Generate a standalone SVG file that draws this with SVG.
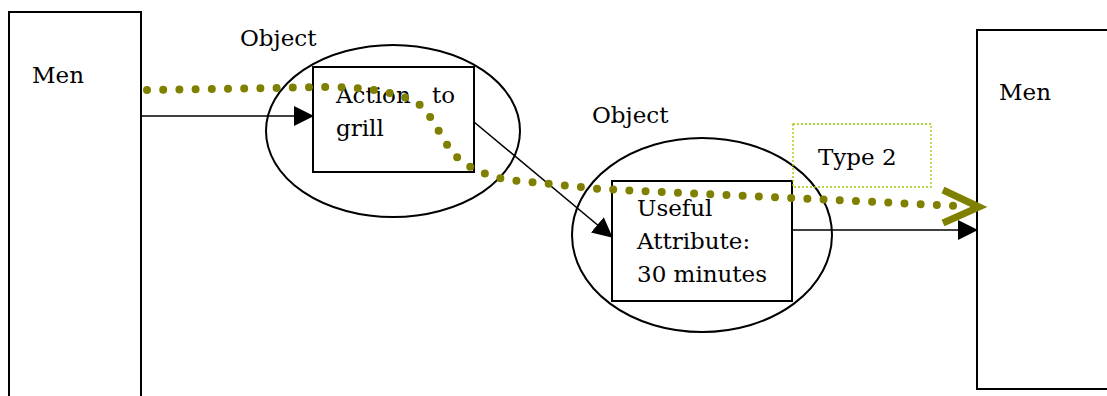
<svg xmlns="http://www.w3.org/2000/svg" width="1107" height="396" viewBox="0 0 1107 396">
<style>
.box{fill:#fff;stroke:#000;stroke-width:2}
.ell{fill:none;stroke:#000;stroke-width:2}
.t{font-family:"DejaVu Serif","Liberation Serif",serif;font-size:23px;fill:#000}
.ln{fill:none;stroke:#000;stroke-width:1.6}
.dot{fill:none;stroke:#808000;stroke-width:8;stroke-linecap:round;stroke-dasharray:0 16.2}
</style>
<defs>
<marker id="ah2" markerWidth="20" markerHeight="20" refX="19" refY="10" orient="auto" markerUnits="userSpaceOnUse"><path d="M0,0 L20,10 L0,20 Z" fill="#000"/></marker>
</defs>
<rect width="1107" height="396" fill="#fff"/>
<g id="men-left"><rect class="box" x="9" y="12" width="132" height="400"/><text class="t" x="32" y="83">Men</text></g>
<g id="men-right"><rect class="box" x="977" y="30" width="140" height="359"/><text class="t" x="999" y="100">Men</text></g>
<g id="object1"><ellipse class="ell" cx="393" cy="131" rx="127" ry="86"/><text class="t" x="240" y="46">Object</text></g>
<g id="action"><rect class="box" x="313" y="67" width="161" height="105"/><text class="t" x="336" y="103">Action<tspan x="432">to</tspan></text><text class="t" x="336" y="136">grill</text></g>
<g id="object2"><ellipse class="ell" cx="702" cy="235" rx="130" ry="97"/><text class="t" x="592" y="123">Object</text></g>
<g id="attribute"><rect class="box" x="612" y="181" width="180" height="120"/><text class="t" x="637" y="216">Useful</text><text class="t" x="637" y="249">Attribute:</text><text class="t" x="637" y="282">30 minutes</text></g>
<g id="type2"><rect x="793" y="124" width="138" height="63" fill="none" stroke="#99cc00" stroke-width="1.3" stroke-dasharray="2 2"/><text class="t" x="818" y="165">Type 2</text></g>
<g id="connectors">
<line class="ln" x1="141" y1="116" x2="313" y2="116" marker-end="url(#ah2)"/>
<line class="ln" x1="474" y1="122" x2="612" y2="237" marker-end="url(#ah2)"/>
<line class="ln" x1="792" y1="230" x2="977" y2="230" marker-end="url(#ah2)"/>
<path class="dot" d="M147,90 L330,87 C380,88 405,95 420,105 C435,118 445,148 458,158 C472,170 490,177 510,180 L600,189 L960,206"/>
<polyline points="943,190 979,207 943,223" fill="none" stroke="#808000" stroke-width="7" stroke-linejoin="miter"/>
</g>
</svg>
